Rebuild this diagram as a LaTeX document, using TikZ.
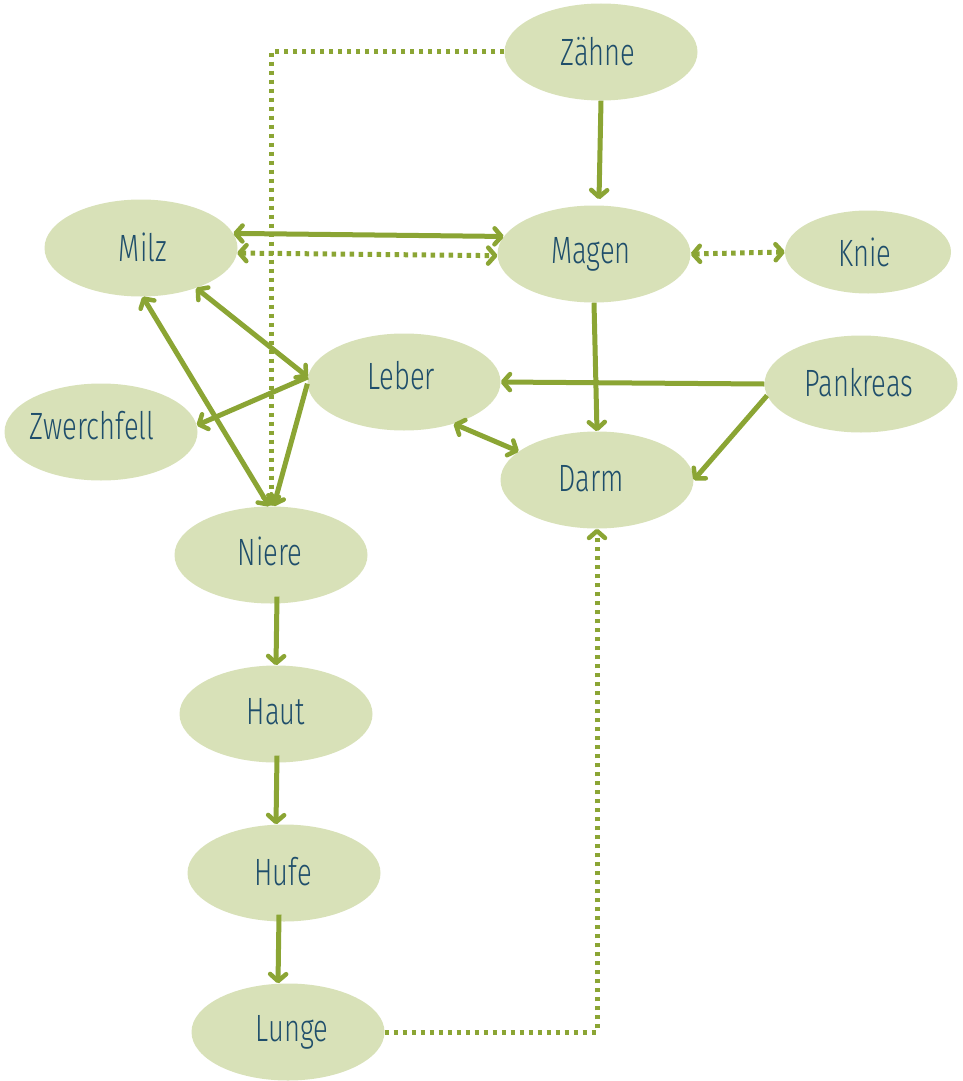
\documentclass[tikz,border=0pt]{standalone}
\usepackage{fontspec}
\setmainfont{Fira Sans}
\newfontfamily\handf{Fira Sans Light}[FakeStretch=0.72]
\usetikzlibrary{shapes.geometric,arrows.meta}
\definecolor{organfill}{HTML}{D8E1B8}
\definecolor{linkgreen}{HTML}{8BA534}
\definecolor{labelblue}{HTML}{1F4E6B}
% #1 = horizontal shift, #2 = vertical shift, #3 = text
\newcommand{\organlabel}[3]{\raisebox{#2pt}{\makebox[0pt][c]{\kern #1pt\kern #1pt #3}}}
\begin{document}
\begin{tikzpicture}[x=1pt,y=-1pt,
  organ/.style={ellipse, fill=organfill, minimum width=193pt, minimum height=97pt,
    inner sep=0pt, text=labelblue, font=\handf\fontsize{38}{38}\selectfont},
  tipb/.tip={Straight Barb[length=7pt,width=16pt,line width=4.5pt,round]},
  link/.style={draw=linkgreen, line width=5pt, -tipb},
  twoway/.style={link, tipb-tipb},
  dotted link/.style={line width=5pt, dash pattern=on 4.5pt off 4.5pt}
]
\useasboundingbox (0,0) rectangle (962,1081);

\node[organ] (zahne)    at (601,52)  {\organlabel{-3}{1}{Zähne}};
\node[organ] (milz)     at (141,248) {\organlabel{2}{2}{Milz}};
\node[organ] (magen)    at (594,254) {\organlabel{-3}{4}{Magen}};
\node[organ, minimum width=166pt, minimum height=83pt] (knie) at (868,252) {\organlabel{-3}{0}{Knie}};
\node[organ] (leber)    at (404,382) {\organlabel{-3}{13}{Leber}};
\node[organ] (pankreas) at (861,384) {\organlabel{-2}{4}{Pankreas}};
\node[organ] (zwerch)   at (101,432) {\organlabel{-9}{13}{Zwerchfell}};
\node[organ] (darm)     at (597,480) {\organlabel{-6}{4}{Darm}};
\node[organ] (niere)    at (271,555) {\organlabel{-1}{7}{Niere}};
\node[organ] (haut)     at (276,714) {\organlabel{0}{5}{Haut}};
\node[organ] (hufe)     at (284,873) {\organlabel{-1}{4}{Hufe}};
\node[organ] (lunge)    at (288,1032) {\organlabel{4}{5}{Lunge}};

% dotted connectors
\draw[link, dotted link] (zahne.west) -| (niere.north);
\draw[twoway, dotted link] (milz.-3) -- (magen.181);
\draw[twoway, dotted link] (magen.east) -- (knie.west);
\draw[link, dotted link] (lunge.east) -| (darm.south);

% solid connectors
\draw[link] (zahne.south) -- ([xshift=5pt,yshift=6pt]magen.north);
\draw[twoway] (milz.9) -- (magen.169);
\draw[twoway] (milz.-36) -- (leber.177);
\draw[twoway] (milz.-88) -- (niere.92);
\draw[link] (leber.177) -- (zwerch.4);
\draw[link] (leber.181) -- (niere.87);
\draw[link] (pankreas.west) -- (leber.east);
\draw[link] (pankreas.187) -- (darm.east);
\draw[link] (magen.south) -- (darm.north);
\draw[twoway] (leber.-40) -- (darm.160);
\draw[link] ([xshift=6pt,yshift=7pt]niere.south) -- (haut.north);
\draw[link] ([xshift=1pt,yshift=7pt]haut.south) -- ([xshift=-8pt]hufe.north);
\draw[link] ([xshift=-5pt,yshift=7pt]hufe.south) -- ([xshift=-10pt]lunge.north);
\end{tikzpicture}
\end{document}
